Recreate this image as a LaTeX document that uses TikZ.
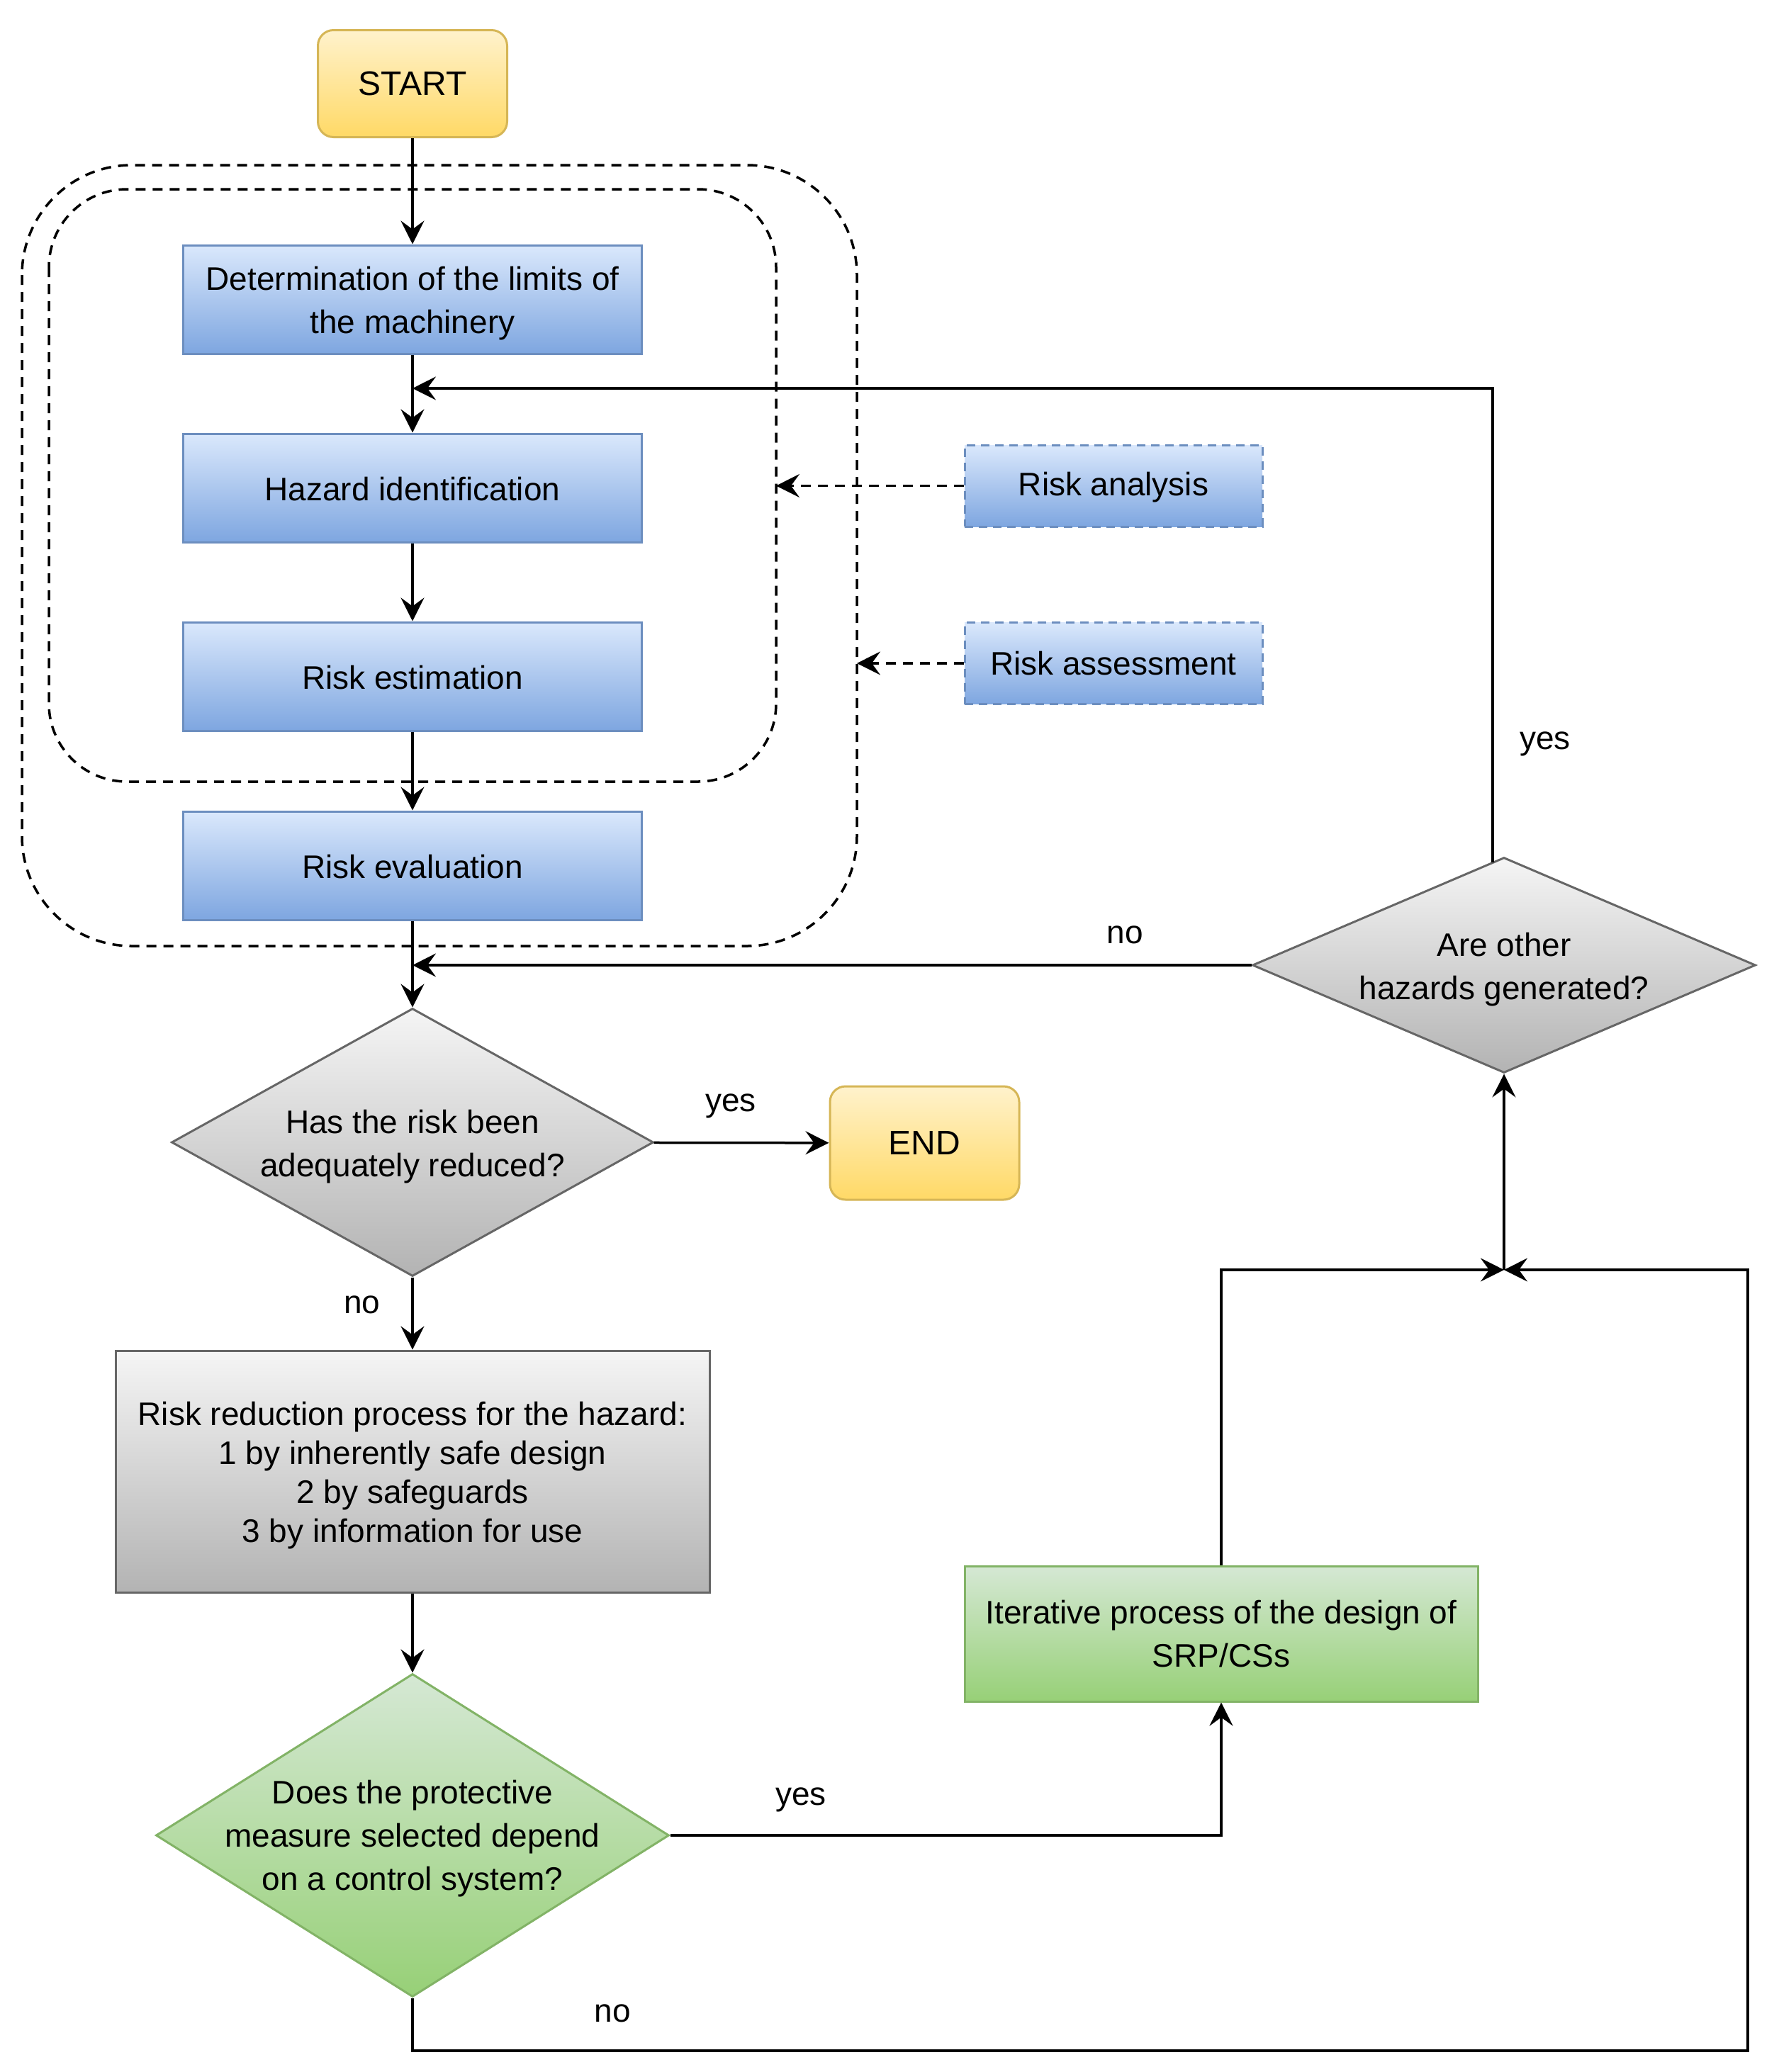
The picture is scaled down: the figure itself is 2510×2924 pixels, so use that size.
\documentclass[tikz,border=0pt]{standalone}
\usepackage{fontspec}
\setmainfont{Liberation Sans}
\usetikzlibrary{shapes.geometric,arrows.meta,calc}
\definecolor{ylT}{HTML}{FFF2CC}
\definecolor{ylB}{HTML}{FFD966}
\definecolor{ylD}{HTML}{D6B656}
\definecolor{blT}{HTML}{DAE8FC}
\definecolor{blB}{HTML}{7EA6E0}
\definecolor{blD}{HTML}{6C8EBF}
\definecolor{grT}{HTML}{F5F5F5}
\definecolor{grB}{HTML}{B3B3B3}
\definecolor{grD}{HTML}{666666}
\definecolor{gnT}{HTML}{D5E8D4}
\definecolor{gnB}{HTML}{97D077}
\definecolor{gnD}{HTML}{82B366}
\begin{document}
\begin{tikzpicture}[x=1pt,y=-1pt,
  every node/.style={font=\fontsize{46}{61}\selectfont, align=center, inner sep=0pt},
  startend/.style={rectangle, rounded corners=22pt, draw=ylD, line width=3pt, top color=ylT, bottom color=ylB, minimum width=267pt, font=\fontsize{48}{61}\selectfont},
  bluebox/.style={rectangle, draw=blD, line width=3pt, top color=blT, bottom color=blB, minimum width=647pt, minimum height=153pt},
  bluedash/.style={rectangle, draw=blD, line width=3pt, dash pattern=on 12pt off 8pt, top color=blT, bottom color=blB, minimum width=420pt, minimum height=115pt},
  graybox/.style={rectangle, draw=grD, line width=3pt, top color=grT, bottom color=grB},
  graydia/.style={diamond, draw=grD, line width=3pt, top color=grT, bottom color=grB},
  greendia/.style={diamond, draw=gnD, line width=3pt, top color=gnT, bottom color=gnB},
  greenbox/.style={rectangle, draw=gnD, line width=3pt, top color=gnT, bottom color=gnB, minimum width=724pt, minimum height=191pt},
  dashframe/.style={draw=black, line width=3.5pt, dash pattern=on 14pt off 10pt},
  conn/.style={draw=black, line width=3.5pt, -{Stealth[length=33pt,width=33pt,inset=12pt]}},
  dconn/.style={conn, dash pattern=on 14pt off 10pt},
  lbl/.style={font=\fontsize{46}{61}\selectfont},
  inlbl/.style={font=\fontsize{46}{61}\selectfont, align=center, yshift=-6pt}
]
\useasboundingbox (0,0) rectangle (2510,2924);

% dashed frames
\draw[dashframe, rounded corners=155pt] (31,233) rectangle (1209,1335);
\draw[dashframe, rounded corners=110pt] (69,267) rectangle (1095,1103);

% nodes
\node[startend, minimum height=151pt] (start) at (582,118) {START};
\node[bluebox, label={[inlbl]center:{Determination of the limits of\\the machinery}}] (b1) at (582,422.5) {};
\node[bluebox, text height=37pt] (b2) at (582,688.5) {Hazard identification};
\node[bluebox, text height=36pt] (b3) at (582,954.5) {Risk estimation};
\node[bluebox, text height=36pt] (b4) at (582,1221.5) {Risk evaluation};
\node[bluedash, text height=37pt] (ra) at (1571,685.5) {Risk analysis};
\node[bluedash] (rs) at (1571,936) {Risk assessment};
\node[graydia, minimum width=680pt, minimum height=378pt,
  label={[inlbl]center:{Has the risk been\\adequately reduced?}}] (d1) at (582,1612) {};
\node[startend, minimum height=160pt] (endn) at (1304.5,1613) {END};
\node[graybox, minimum width=838pt, minimum height=341pt,
  label={[inlbl, font=\fontsize{46}{55}\selectfont]center:{Risk reduction process for the hazard:\\1 by inherently safe design\\2 by safeguards\\3 by information for use}}] (red) at (582,2076.5) {};
\node[greendia, minimum width=724pt, minimum height=456pt,
  label={[inlbl, yshift=1pt]center:{Does the protective\\measure selected depend\\on a control system?}}] (gd) at (582,2590) {};
\node[greenbox] (gb) at (1723,2305.5) {Iterative process of the design of\\SRP/CSs};
\node[graydia, minimum width=710pt, minimum height=304pt,
  label={[inlbl]center:{Are other\\hazards generated?}}] (d3) at (2122,1362) {};

% helper coordinates
\coordinate (J) at (2122,1792);
\coordinate (rc) at (2466,2894);
\coordinate (nojoin) at (582,1362);
\coordinate (ystart) at (2106,1217);
\coordinate (yjoin) at (582,548);
\coordinate (ia) at (1095,685.5);
\coordinate (oa) at (1209,936);

% connectors
\draw[conn] (start) -- (b1);
\draw[conn] (b1) -- (b2);
\draw[conn] (b2) -- (b3);
\draw[conn] (b3) -- (b4);
\draw[conn] (b4) -- (d1);
\draw[conn] (d1) -- (endn);
\draw[conn] (d1) -- (red);
\draw[conn] (red) -- (gd);
\draw[conn] (gd.east) -| (gb.south);
\draw[conn] (gb.north) |- (J);
\draw[conn] (gd.south) |- (rc) |- (J);
\draw[conn] (J) -- (d3.south);
\draw[conn] (d3.west) -- (nojoin);
\draw[conn] (ystart) |- (yjoin);
\draw[dconn] (ra.west) -- (ia);
\draw[dconn] (rs.west) -- (oa);

% labels
\node[lbl] (l1) at (2180,1050) {yes};
\node[lbl] (l2) at (1587,1319) {no};
\node[lbl] (l3) at (1031,1561) {yes};
\node[lbl] (l4) at (511,1841) {no};
\node[lbl] (l5) at (1130,2540) {yes};
\node[lbl] (l6) at (864,2841) {no};
\end{tikzpicture}
\end{document}
